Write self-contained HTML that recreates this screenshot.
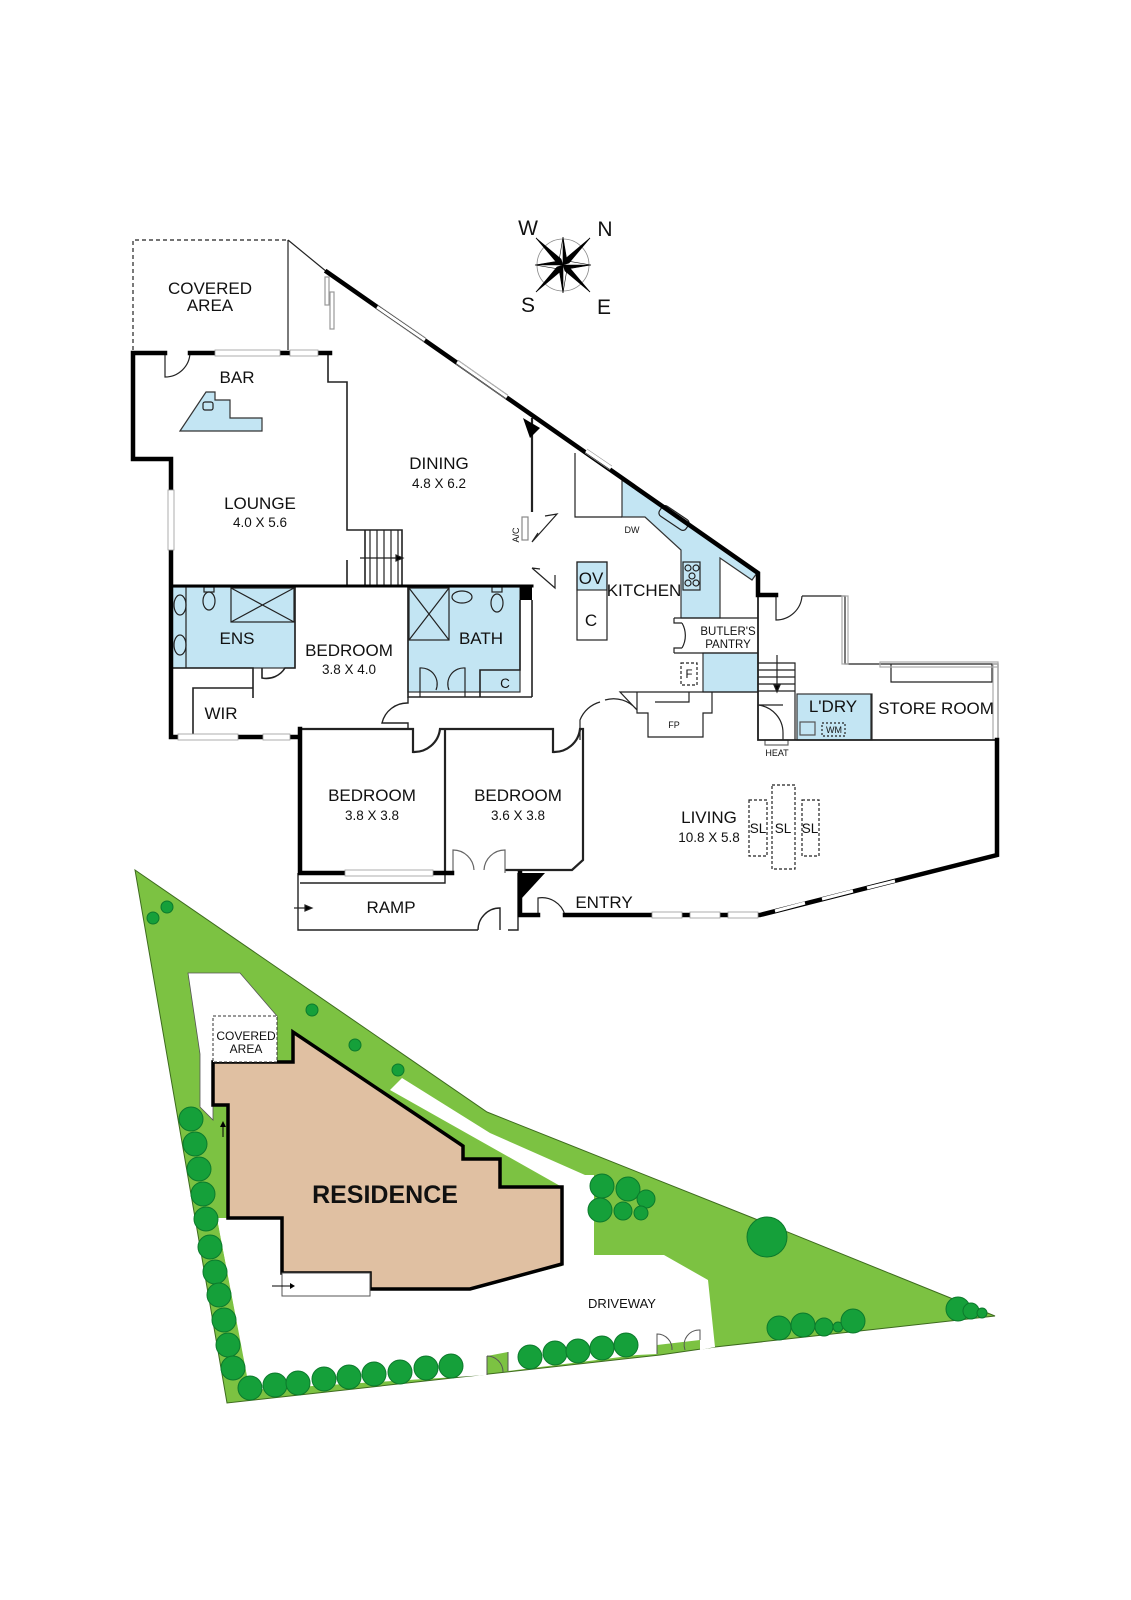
<!DOCTYPE html>
<html><head><meta charset="utf-8"><style>
html,body{margin:0;padding:0;background:#fff}
svg{display:block}
text{font-family:"Liberation Sans",sans-serif;fill:#111}
</style></head><body>
<svg width="1131" height="1600" viewBox="0 0 1131 1600" xmlns="http://www.w3.org/2000/svg">
<rect width="1131" height="1600" fill="#fff"/>

<!-- ===== SITE PLAN ===== -->
<polygon points="135,870 487,1112 753,1218 995,1316 715,1347 660,1355 227,1403" fill="#7cc242" stroke="#3d6b1e" stroke-width="1"/>
<polygon points="188,973 240,973 277,1016 277,1062 229,1062 229,1105 213,1105 213,1120 200,1107 200,1054" fill="#fff" stroke="#555" stroke-width="0.8"/>
<polygon points="402,1078 490,1133 585,1175 594,1175 594,1255 664,1255 708,1280 715,1347 700,1350 700,1340 657,1345 657,1354 637,1355 508,1371 508,1352 487,1356 487,1375 250,1390 217,1218 229,1218 229,1105 470,1289 562,1266 562,1187 390,1090" fill="#fff"/>
<polygon points="217,1218 229,1218 240,1270 260,1390 250,1392" fill="#fff"/>
<polygon points="213,1062 293,1062 293,1032 463,1146 463,1159 500,1159 500,1187 562,1187 562,1264 470,1289 370,1289 370,1273 282,1273 282,1218 228,1218 228,1105 213,1105" fill="#e0c0a2" stroke="#000" stroke-width="3.5"/>
<rect x="282" y="1273" width="88" height="23" fill="#fff" stroke="#555" stroke-width="1"/>
<line x1="272" y1="1286" x2="290" y2="1286" stroke="#000" stroke-width="1"/>
<polygon points="290,1283 295,1286 290,1289" fill="#000"/>
<line x1="223" y1="1125" x2="223" y2="1137" stroke="#000" stroke-width="1"/>
<polygon points="220,1127 223,1121 226,1127" fill="#000"/>
<text x="385" y="1203" font-size="25" font-weight="bold" text-anchor="middle">RESIDENCE</text>
<rect x="213" y="1016" width="64" height="46" fill="#fff" stroke="#333" stroke-width="1" stroke-dasharray="3,2"/>
<text x="246" y="1040" font-size="12" text-anchor="middle">COVERED</text>
<text x="246" y="1053" font-size="12" text-anchor="middle">AREA</text>
<text x="622" y="1308" font-size="13" text-anchor="middle">DRIVEWAY</text>
<path d="M487,1375 L487,1356 M487,1356 A16,16 0 0 1 503,1372 M508,1371 L508,1352" fill="none" stroke="#555" stroke-width="1"/>
<path d="M657,1354 L657,1334 A15,15 0 0 1 672,1350 M700,1340 L700,1330 A15,15 0 0 0 685,1350" fill="none" stroke="#555" stroke-width="1"/>
<g fill="#15a03a" stroke="#0c7a2c" stroke-width="1">
<circle cx="191" cy="1119" r="12"/><circle cx="195" cy="1144" r="12"/><circle cx="199" cy="1169" r="12"/><circle cx="203" cy="1194" r="12"/><circle cx="206" cy="1219" r="12"/><circle cx="210" cy="1247" r="12"/><circle cx="215" cy="1272" r="12"/><circle cx="219" cy="1295" r="12"/><circle cx="224" cy="1320" r="12"/><circle cx="228" cy="1345" r="12"/><circle cx="233" cy="1368" r="12"/>
<circle cx="250" cy="1388" r="12"/><circle cx="275" cy="1385" r="12"/><circle cx="298" cy="1383" r="12"/><circle cx="324" cy="1379" r="12"/><circle cx="349" cy="1377" r="12"/><circle cx="374" cy="1374" r="12"/><circle cx="400" cy="1372" r="12"/><circle cx="426" cy="1368" r="12"/><circle cx="451" cy="1366" r="12"/>
<circle cx="530" cy="1357" r="12"/><circle cx="555" cy="1353" r="12"/><circle cx="578" cy="1351" r="12"/><circle cx="602" cy="1348" r="12"/><circle cx="626" cy="1345" r="12"/>
<circle cx="602" cy="1186" r="12"/><circle cx="628" cy="1189" r="12"/><circle cx="646" cy="1199" r="9"/><circle cx="600" cy="1210" r="12"/><circle cx="623" cy="1211" r="9"/><circle cx="641" cy="1213" r="7"/>
<circle cx="767" cy="1237" r="20"/>
<circle cx="779" cy="1328" r="12"/><circle cx="803" cy="1325" r="12"/><circle cx="824" cy="1327" r="9"/><circle cx="838" cy="1327" r="5"/><circle cx="853" cy="1321" r="12"/>
<circle cx="958" cy="1309" r="12"/><circle cx="971" cy="1311" r="8"/><circle cx="982" cy="1313" r="5"/>
<circle cx="153" cy="918" r="6"/><circle cx="167" cy="907" r="6"/><circle cx="312" cy="1010" r="6"/><circle cx="355" cy="1045" r="6"/><circle cx="398" cy="1070" r="6"/>
</g>

<!-- ===== COMPASS ===== -->
<g transform="translate(563,265)">
<circle r="26" fill="none" stroke="#888" stroke-width="0.8"/>
<g fill="#000" stroke="#000" stroke-width="0.6">
<polygon points="0,-28 4,-4 0,0"/><polygon points="0,-28 -4,-4 0,0" fill="#fff"/>
<polygon points="0,28 -4,4 0,0"/><polygon points="0,28 4,4 0,0" fill="#fff"/>
<polygon points="-28,0 -4,-4 0,0"/><polygon points="-28,0 -4,4 0,0" fill="#fff"/>
<polygon points="28,0 4,4 0,0"/><polygon points="28,0 4,-4 0,0" fill="#fff"/>
<polygon points="-27,-27 -2,-6 0,0"/><polygon points="-27,-27 -6,-2 0,0"/>
<polygon points="27,-27 6,-2 0,0"/><polygon points="27,-27 2,-6 0,0"/>
<polygon points="-27,27 -6,2 0,0"/><polygon points="-27,27 -2,6 0,0"/>
<polygon points="27,27 2,6 0,0"/><polygon points="27,27 6,2 0,0"/>
</g></g>
<text x="528" y="235" font-size="21" text-anchor="middle">W</text>
<text x="605" y="236" font-size="21" text-anchor="middle">N</text>
<text x="528" y="312" font-size="21" text-anchor="middle">S</text>
<text x="604" y="314" font-size="21" text-anchor="middle">E</text>

<!-- ===== FLOOR PLAN ===== -->
<g fill="#c3e5f3" stroke="#333" stroke-width="1.2">
<rect x="172" y="587" width="123" height="81"/>
<rect x="408" y="587" width="112" height="105"/>
<polygon points="622,480 757,573 752,580 720,558 720,618 681,618 681,550 645,517 622,517"/>
<rect x="703" y="653" width="55" height="39"/>
<rect x="797" y="694" width="75" height="46"/>
<rect x="577" y="562" width="30" height="28"/>
<polygon points="180,431 206,392 215,392 215,400 230,400 230,418 262,418 262,431"/>
</g>
<g fill="none" stroke="#222" stroke-width="1.2">
<path d="M133,350 L133,240 L288,240" stroke-dasharray="4,3"/>
<path d="M288,240 L288,350 M288,240 L327,272"/>
<rect x="325" y="277" width="4" height="28" stroke="#999"/><rect x="330" y="292" width="4" height="37" stroke="#999"/>
<path d="M165,353 L165,377 A25,25 0 0 0 190,353"/>
<path d="M328,353 L328,382 L347,382 L347,530 L402,530 L402,586 M365,530 L365,586" stroke-width="1.6"/>
<path d="M370,530V586M377,530V586M384,530V586M391,530V586M398,530V586"/>
<path d="M360,558 L403,558"/><polygon points="403,558 396,555 396,561" fill="#000"/>
<path d="M347,560 L347,586" stroke-width="1.6"/>
<rect x="203" y="402" width="10" height="8" rx="2"/>
<path d="M532,418 L532,512" stroke-width="2.2"/>
<rect x="522" y="517" width="6" height="23" stroke="#888"/>
<path d="M532,542 L557,514 L545,516 M532,542 L538,533" />
<path d="M532,568 L555,588 L555,575 M532,568 L540,569"/>
<line x1="186" y1="587" x2="186" y2="668"/>
<rect x="231" y="588" width="63" height="34"/><path d="M231,588 L294,622 M294,588 L231,622"/>
<ellipse cx="209" cy="601" rx="6" ry="9"/><rect x="204" y="587" width="10" height="5"/>
<ellipse cx="180" cy="605" rx="6" ry="10"/><ellipse cx="180" cy="645" rx="6" ry="10"/>
<path d="M171,668 L253,668 L253,698 M262,668 L262,678 A22,22 0 0 0 285,668 L295,668 L295,587" stroke-width="1.6"/>
<path d="M193,737 L193,688 L253,688" stroke-width="1.6"/>
<rect x="409" y="588" width="40" height="52"/><path d="M409,588 L449,640 M449,588 L409,640"/>
<ellipse cx="462" cy="597" rx="10" ry="6"/><ellipse cx="497" cy="603" rx="6" ry="9"/><rect x="492" y="587" width="10" height="5"/>
<path d="M408,586 L408,697 L532,697 M520,600 L520,670 L480,670 L480,697 M532,600 L532,697" stroke-width="1.6"/>
<path d="M420,697 L420,668 A16,16 0 0 1 436,690 M465,697 L465,668 A16,16 0 0 0 449,690"/>
<path d="M408,697 L408,703 A26,26 0 0 0 382,723 L408,723 L408,729" stroke-width="1.4"/>
<path d="M300,729 L413,729 L413,752 A26,26 0 0 0 440,729 L553,729 L553,752 A26,26 0 0 0 580,729 L583,729 L583,860 L572,870 L505,870 M445,729 L445,873" stroke-width="2.2"/>
<path d="M453,873 L453,850 A21,21 0 0 1 474,870 M505,873 L505,850 A21,21 0 0 0 484,870" stroke="#666"/>
<path d="M298,873 L298,930 L478,930 M508,930 L518,930 L518,873 M300,883 L445,883 L445,873 M478,930 A22,22 0 0 1 500,908 L500,930" stroke-width="1.4"/>
<path d="M294,908 L310,908"/><polygon points="312,908 305,905 305,911" fill="#000"/>
<path d="M575,453 L575,517 L622,517"/>
<rect x="577" y="562" width="30" height="78"/>
<rect x="658" y="512" width="32" height="12" rx="4" transform="rotate(34 674 518)"/>
<rect x="683" y="562" width="17" height="28"/>
<circle cx="688" cy="568" r="3"/><circle cx="696" cy="568" r="3"/><circle cx="692" cy="576" r="3"/><circle cx="688" cy="583" r="3"/><circle cx="696" cy="583" r="3"/>
<path d="M674,618 L758,618 M674,653 L758,653 M674,618 L674,623 L682,623 M674,653 L674,648 L682,648 M682,623 A25,25 0 0 1 682,648"/>
<rect x="681" y="663" width="16" height="22" stroke-dasharray="3,2"/>
<path d="M637,692 L637,713 L648,713 L648,737 L703,737 L703,713 L712,713 L712,692 M655,702 L689,702 L689,692 M637,692 L758,692"/>
<path d="M637,692 L620,692 L637,710 M637,710 A30,30 0 0 0 605,700 M600,702 A30,30 0 0 0 580,720 L580,740"/>
<path d="M758,663 L795,663 L795,740 M758,670H795M758,677H795M758,684H795M758,691H795"/>
<path d="M777,655 L777,690"/><polygon points="777,692 774,685 780,685" fill="#000"/>
<path d="M758,740 L758,705 L783,705 M758,705 A28,28 0 0 1 783,733 L783,740"/>
<rect x="765" y="740" width="23" height="5" stroke="#666"/>
<rect x="800" y="722" width="15" height="13" stroke="#555"/>
<rect x="822" y="723" width="23" height="13" stroke-dasharray="2,2"/>
<path d="M776,595 L776,620 A26,26 0 0 0 802,596"/>
<path d="M802,596 L845,596 L845,664 L998,664 L998,740 M871,694 L871,740 M891,664 L891,682 L992,682 L992,664"/>
<rect x="842" y="596" width="6" height="68" stroke="#aaa"/>
<rect x="880" y="662" width="118" height="5" stroke="#aaa"/>
<rect x="993" y="664" width="5" height="76" stroke="#aaa"/>
<path d="M758,595 L758,740 L998,740" stroke-width="1.8"/>
<g stroke-dasharray="3,2"><rect x="749" y="800" width="18" height="56"/><rect x="772" y="785" width="23" height="84"/><rect x="802" y="800" width="17" height="56"/></g>
<path d="M538,915 L538,898 A24,24 0 0 1 565,915"/>
</g>

<g stroke="#000" stroke-width="4.5" fill="none" stroke-linecap="square">
<path d="M165,353 L133,353 L133,459 L171,459 L171,737 L298,737"/>
<path d="M190,353 L330,353"/>
<path d="M327,272 L758,573 L758,595 L776,595"/>
<path d="M300,729 L300,873 L452,873"/>
<path d="M520,873 L520,915 L538,915 M565,915 L760,915 L997,855 L997,740"/>
<path d="M171,586 L532,586" stroke-width="3"/>
</g>
<polygon points="520,873 545,873 522,898" fill="#000"/>
<polygon points="523,418 540,428 530,438" fill="#000"/>
<rect x="520" y="586" width="12" height="14" fill="#000"/>

<g fill="#fff" stroke="#999" stroke-width="0.8">
<rect x="168" y="490" width="6" height="60"/>
<rect x="215" y="350" width="65" height="6"/><rect x="290" y="350" width="28" height="6"/>
<rect x="178" y="734" width="60" height="6"/><rect x="263" y="734" width="27" height="6"/>
<rect x="345" y="870" width="88" height="6"/>
<rect x="652" y="912" width="30" height="6"/><rect x="690" y="912" width="30" height="6"/><rect x="728" y="912" width="30" height="6"/>
</g>
<g stroke="#fff" stroke-width="3" fill="none">
<path d="M377,307 L425,340 M457,362 L507,397 M586,451 L611,468 M775,911 L805,903 M822,899 L853,891 M867,888 L895,881"/>
</g>
<g stroke="#999" stroke-width="0.6" fill="none">
<path d="M378,305 L426,338 M376,309 L424,342 M458,360 L508,395 M456,364 L506,399 M587,449 L612,466 M585,453 L610,470"/>
</g>

<g font-size="17" text-anchor="middle">
<text x="210" y="294">COVERED</text><text x="210" y="311">AREA</text>
<text x="237" y="383">BAR</text>
<text x="439" y="469">DINING</text>
<text x="260" y="509">LOUNGE</text>
<text x="237" y="644">ENS</text>
<text x="349" y="656">BEDROOM</text>
<text x="481" y="644">BATH</text>
<text x="221" y="719">WIR</text>
<text x="372" y="801">BEDROOM</text>
<text x="518" y="801">BEDROOM</text>
<text x="391" y="913">RAMP</text>
<text x="604" y="908">ENTRY</text>
<text x="709" y="823">LIVING</text>
<text x="644" y="596">KITCHEN</text>
<text x="833" y="712">L'DRY</text>
<text x="936" y="714">STORE ROOM</text>
<text x="591" y="584">OV</text>
<text x="591" y="626">C</text>
</g>
<g font-size="13.5" text-anchor="middle">
<text x="439" y="488">4.8 X 6.2</text>
<text x="260" y="527">4.0 X 5.6</text>
<text x="349" y="674">3.8 X 4.0</text>
<text x="372" y="820">3.8 X 3.8</text>
<text x="518" y="820">3.6 X 3.8</text>
<text x="709" y="842">10.8 X 5.8</text>
<text x="505" y="688">C</text>
<text x="758" y="833">SL</text><text x="783" y="833">SL</text><text x="810" y="833">SL</text>
</g>
<g font-size="11.5" text-anchor="middle">
<text x="728" y="635">BUTLER'S</text><text x="728" y="648">PANTRY</text>
<text x="689" y="678">F</text>
</g>
<g font-size="9" text-anchor="middle">
<text x="632" y="533">DW</text>
<text x="674" y="728">FP</text>
<text x="777" y="756">HEAT</text>
<text x="834" y="733">WM</text>
<text transform="translate(519,535) rotate(-90)">A/C</text>
</g>
</svg>
</body></html>
